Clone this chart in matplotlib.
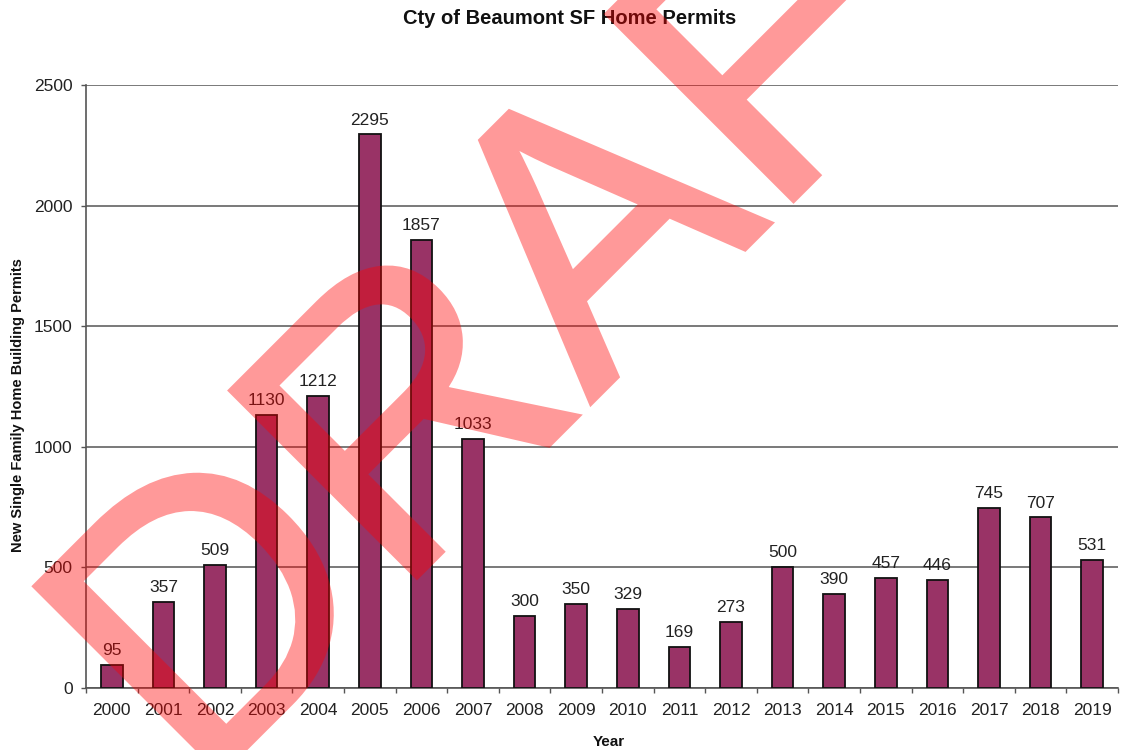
import matplotlib
matplotlib.use("Agg")
import matplotlib.pyplot as plt
import matplotlib.patheffects as pe
import numpy as np

years = [str(y) for y in range(2000, 2020)]
permits = [95, 357, 509, 1130, 1212, 2295, 1857, 1033, 300, 350, 329, 169, 273,
           500, 390, 457, 446, 745, 707, 531]
yticks = [0, 500, 1000, 1500, 2000, 2500]

title = "Cty of Beaumont SF Home Permits"
ylabel = "New Single Family Home Building Permits"
xlabel = "Year"
watermark = "DRAFT"

W, H = 1126, 750
fig = plt.figure(figsize=(W / 100, H / 100), dpi=100)
plt.rcParams['font.family'] = ['Liberation Sans', 'DejaVu Sans']

ax = fig.add_axes([86 / W, 1 - 688 / H, (1118 - 86) / W, (688 - 85) / H])
x = np.arange(len(years))
ax.bar(x, permits, width=0.42, color='#993366', edgecolor='#111111',
       linewidth=1.3, zorder=3)

for xi, v in zip(x, permits):
    ax.annotate(str(v), (xi, v), xytext=(0, 5), textcoords='offset points',
                ha='center', va='bottom', fontsize=12.5, color='#222222', zorder=4)

ax.set_xlim(-0.5, len(years) - 0.5)
ax.set_ylim(0, 2500)
ax.set_yticks(yticks)
ax.set_yticklabels([str(t) for t in yticks], fontsize=12.5, color='#222222')
ax.set_xticks(x)
ax.set_xticklabels(years, fontsize=12.5, color='#222222')
ax.set_xticks(np.arange(-0.5, len(years), 1.0), minor=True)
ax.tick_params(axis='x', which='major', length=0, pad=11)
ax.tick_params(axis='x', which='minor', length=3.6, width=1, color='#555555', direction='out')
ax.tick_params(axis='y', length=3.6, width=1, color='#555555', pad=6)

ax.grid(axis='y', color='#6e6e6e', linewidth=1.3, zorder=0)
ax.set_axisbelow(True)
for s in ['top', 'right']:
    ax.spines[s].set_visible(False)
for s in ['left', 'bottom']:
    ax.spines[s].set_color('#555555')
    ax.spines[s].set_linewidth(1.2)

fig.text(570 / W, 1 - 18 / H, title, ha='center', va='center',
         fontsize=14.5, fontweight='bold', color='#111111')
fig.text(18 / W, 1 - 405 / H, ylabel, ha='center', va='center', rotation=90,
         fontsize=10.5, fontweight='bold', color='#111111')
fig.text(609 / W, 1 - 742 / H, xlabel, ha='center', va='center',
         fontsize=11, fontweight='bold', color='#111111')


def group_alpha(img, dpi):
    out = img.copy()
    out[..., 3] = out[..., 3] * 0.4
    return out, 0, 0


wm = fig.text(199 / W, 1 - 795 / H, watermark, ha='left', va='baseline',
              rotation=45, rotation_mode='anchor', fontsize=276,
              family='Liberation Sans', color='#ff0000', zorder=10)
wm.set_path_effects([pe.Stroke(linewidth=3.5, foreground='#ff0000',
                               joinstyle='miter'), pe.Normal()])
wm.set_agg_filter(group_alpha)

fig.savefig('out.png', dpi=100)
